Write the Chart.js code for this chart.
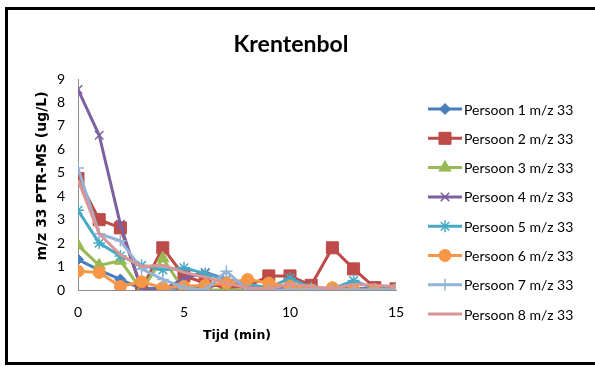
<!DOCTYPE html>
<html>
<head>
<meta charset="utf-8">
<script src="https://cdn.jsdelivr.net/npm/chart.js@4.4.0/dist/chart.umd.min.js"></script>
<style>
  html, body { margin: 0; padding: 0; background: #fff; overflow: hidden; }
  #wrap { position: relative; width: 595px; height: 367px; }
  #frame { position: absolute; left: 5px; top: 7px; width: 640px; height: 358px;
           border: 3px solid #000; box-sizing: border-box; }
  #c { position: absolute; left: 0; top: 0; }
</style>
</head>
<body>
<div id="wrap">
  <div id="frame"></div>
  <canvas id="c" width="595" height="367"></canvas>
</div>
<script>
// Time after swallowing (min)
const minutes = [0, 1, 2, 3, 4, 5, 6, 7, 8, 9, 10, 11, 12, 13, 14, 15];

// m/z 33 concentration per person (ug/L)
const persoon1 = [1.3, 0.85, 0.45, 0.05, 0.1, 0.05, 0.1, 0.3, 0.1, 0.05, 0.05, 0.05, 0.05, 0.05, 0.05, 0.05];
const persoon2 = [4.75, 3.0, 2.65, 0.05, 1.8, 0.6, 0.3, 0.1, 0.15, 0.6, 0.6, 0.2, 1.8, 0.9, 0.1, 0.05];
const persoon3 = [1.9, 1.05, 1.25, 0.0, 1.35, 0.0, 0.0, 0.0, 0.0, 0.0, 0.0, 0.0, 0.0, 0.0, 0.0, 0.0];
const persoon4 = [8.55, 6.6, 2.8, 0.0, 0.0, 0.5, 0.75, 0.45, 0.2, 0.05, 0.05, 0.05, 0.05, 0.05, 0.05, 0.05];
const persoon5 = [3.4, 2.0, 1.45, 1.05, 0.85, 0.95, 0.7, 0.45, 0.25, 0.1, 0.5, 0.1, 0.05, 0.4, 0.05, 0.05];
const persoon6 = [0.8, 0.75, 0.15, 0.35, 0.1, 0.15, 0.2, 0.3, 0.45, 0.3, 0.15, 0.0, 0.1, 0.0, 0.0, 0.0];
const persoon7 = [5.2, 2.4, 2.1, 0.9, 0.45, 0.1, 0.0, 0.8, 0.0, 0.0, 0.0, 0.0, 0.0, 0.0, 0.0, 0.0];
const persoon8 = [4.7, 2.4, 1.5, 1.0, 1.05, 0.75, 0.55, 0.3, 0.1, 0.05, 0.25, 0.15, 0.05, 0.25, 0.2, 0.15];

const seriesNames = ['Persoon 1 m/z 33', 'Persoon 2 m/z 33', 'Persoon 3 m/z 33', 'Persoon 4 m/z 33',
                     'Persoon 5 m/z 33', 'Persoon 6 m/z 33', 'Persoon 7 m/z 33', 'Persoon 8 m/z 33'];
const xTickValues = [0, 5, 10, 15];
const yTickValues = [0, 1, 2, 3, 4, 5, 6, 7, 8, 9];

const chartTitle = 'Krentenbol';
const xTitle = 'Tijd (min)';
const yTitle = 'm/z 33 PTR-MS (ug/L)';

const seriesValues = [persoon1, persoon2, persoon3, persoon4, persoon5, persoon6, persoon7, persoon8];
const seriesStyle = [
  { color: '#4A7EBB', point: 'rectRot', radius: 5.5 },
  { color: '#BE4B48', point: 'rect',    radius: 8.5 },
  { color: '#98B954', point: 'triangle', radius: 7 },
  { color: '#7D60A0', point: 'crossRot', radius: 6 },
  { color: '#46AAC5', point: 'star',    radius: 6 },
  { color: '#F79646', point: 'circle',  radius: 6 },
  { color: '#95B3D7', point: 'cross',   radius: 6 },
  { color: '#D99694', point: false,     radius: 0 }
];

// later persons are painted over earlier ones
const datasets = seriesValues.map((vals, i) => {
  const st = seriesStyle[i];
  return {
    label: seriesNames[i],
    data: vals.map((v, k) => ({ x: minutes[k], y: v })),
    order: seriesValues.length - i,
    borderColor: st.color,
    backgroundColor: st.color,
    pointBackgroundColor: st.color,
    pointBorderColor: st.color,
    borderWidth: 3,
    pointStyle: st.point,
    pointRadius: st.radius,
    pointBorderWidth: (st.point === 'crossRot' || st.point === 'star' || st.point === 'cross') ? 1.5 : 1,
    tension: 0,
    fill: false
  };
});

const FONT = 'Lato';
const AXIS_TITLE_FONT = '"DejaVu Sans"';

// Title, rotated value-axis title and the line+marker legend on the right
const decor = {
  id: 'decor',
  afterDraw(chart) {
    const ctx = chart.ctx;
    ctx.save();
    ctx.fillStyle = '#000';
    ctx.textAlign = 'center';
    ctx.textBaseline = 'middle';
    ctx.font = 'bold 23px ' + FONT;
    ctx.fillText(chartTitle, 291, 45);

    ctx.save();
    ctx.translate(42, 176);
    ctx.rotate(-Math.PI / 2);
    ctx.font = 'bold 14px ' + AXIS_TITLE_FONT;
    ctx.fillText(yTitle, 0, 0);
    ctx.restore();

    const x0 = 428, x1 = 462, top = 109, step = 29.3;
    chart.data.datasets.forEach((ds, i) => {
      const y = top + i * step;
      ctx.strokeStyle = ds.borderColor;
      ctx.lineWidth = 3;
      ctx.beginPath();
      ctx.moveTo(x0, y);
      ctx.lineTo(x1, y);
      ctx.stroke();
      if (ds.pointStyle) {
        ctx.fillStyle = ds.pointBackgroundColor;
        ctx.strokeStyle = ds.pointBorderColor;
        ctx.lineWidth = ds.pointBorderWidth;
        Chart.helpers.drawPoint(ctx, { pointStyle: ds.pointStyle, radius: ds.pointRadius, rotation: 0, borderWidth: ds.pointBorderWidth }, (x0 + x1) / 2, y);
      }
      ctx.fillStyle = '#000';
      ctx.textAlign = 'left';
      ctx.textBaseline = 'middle';
      ctx.font = '14px ' + FONT;
      ctx.fillText(ds.label, 464, y + 1);
    });
    ctx.restore();
  }
};

new Chart(document.getElementById('c'), {
  type: 'line',
  data: { datasets },
  plugins: [decor],
  options: {
    responsive: false,
    animation: false,
    layout: { padding: { left: 0, right: 199, top: 79, bottom: 0 } },
    plugins: {
      legend: { display: false },
      tooltip: { enabled: false },
      title: { display: false }
    },
    scales: {
      x: {
        type: 'linear',
        min: 0,
        max: 15,
        grid: { display: false, drawTicks: false },
        border: { display: true, color: '#8C8C8C', width: 1 },
        afterBuildTicks(s) { s.ticks = xTickValues.map(v => ({ value: v })); },
        ticks: { padding: 14, color: '#000', font: { family: FONT, size: 14 } },
        title: { display: true, text: xTitle, color: '#000', font: { family: 'DejaVu Sans', size: 12.5, weight: 'bold' }, padding: { top: 0, bottom: 24 } },
        afterFit(s) { s.height = 77; }
      },
      y: {
        min: 0,
        max: 9,
        grid: { display: false, drawTicks: false },
        border: { display: true, color: '#8C8C8C', width: 1 },
        afterBuildTicks(s) { s.ticks = yTickValues.map(v => ({ value: v })); },
        ticks: { padding: 13, color: '#000', font: { family: FONT, size: 14 } },
        afterFit(s) { s.width = 78; }
      }
    }
  }
});
</script>
</body>
</html>
